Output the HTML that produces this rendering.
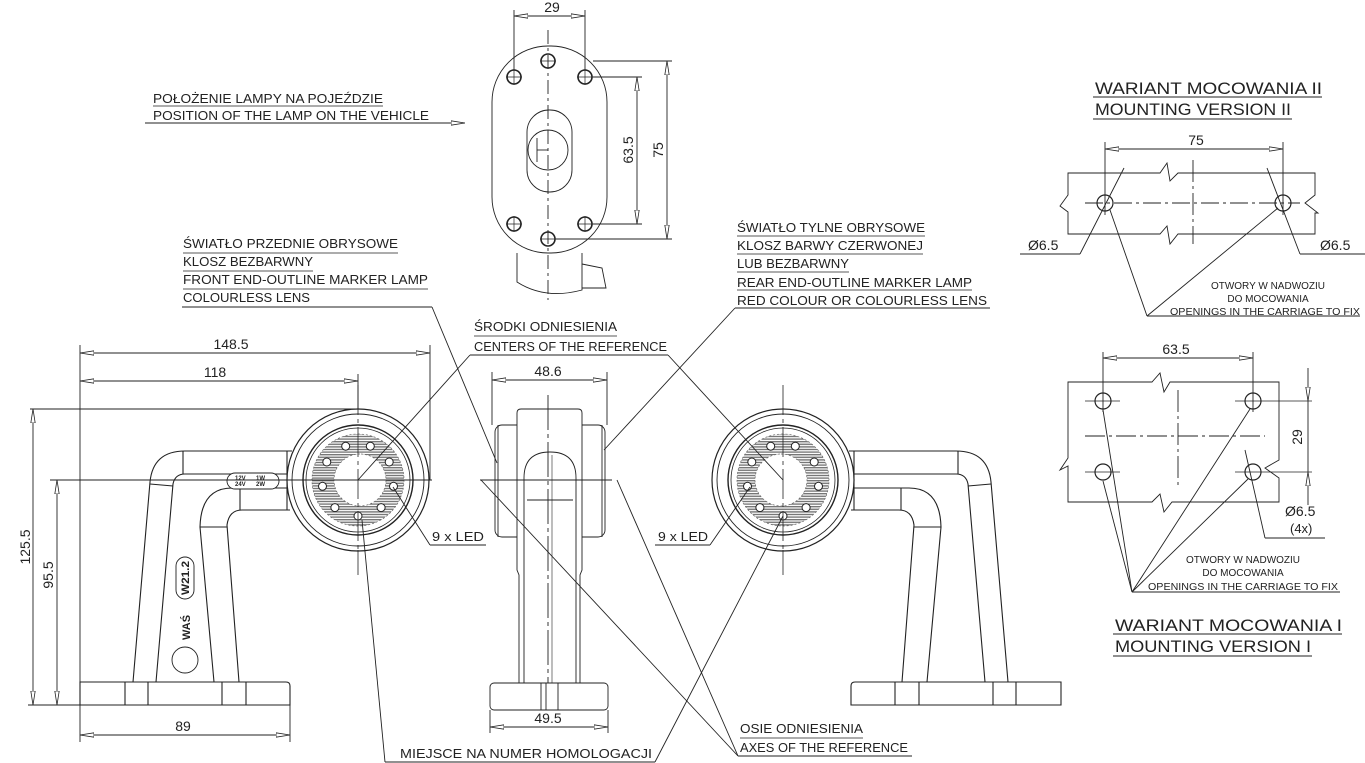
<!DOCTYPE html>
<html><head><meta charset="utf-8"><style>
html,body{margin:0;padding:0;background:#fff}
svg{display:block}
text{font-family:"Liberation Sans",sans-serif;fill:#222}
</style></head><body>
<svg width="1365" height="763" viewBox="0 0 1365 763" xmlns="http://www.w3.org/2000/svg">
<defs>
<marker id="a" viewBox="0 0 14 6" refX="14" refY="3" markerWidth="14" markerHeight="6" markerUnits="userSpaceOnUse" orient="auto-start-reverse"><path d="M0,0.8 L14,3 L0,5.2 Z" fill="#fff" stroke="#222" stroke-width="0.8"/></marker>
<pattern id="h" width="4" height="2.6" patternUnits="userSpaceOnUse"><rect width="4" height="2.6" fill="#fff"/><rect width="4" height="1.4" fill="#777"/></pattern>
<g id="lamp">
<circle r="71" fill="#fff" stroke="#222" stroke-width="1.2"/>
<circle r="66" fill="none" stroke="#222"/>
<circle r="55" fill="none" stroke="#222" stroke-width="1.4"/>
<circle r="52" fill="none" stroke="#222" stroke-width="0.8"/>
<path d="M0,-46 A46,46 0 1,1 0,46 A46,46 0 1,1 0,-46 Z M2,-26 A26,26 0 1,0 2,26 A26,26 0 1,0 2,-26 Z" fill="url(#h)" fill-rule="evenodd" stroke="#666" stroke-dasharray="2 2" stroke-width="0.7"/>
<g fill="#fff" stroke="#222" stroke-width="1">
<circle cx="0" cy="36" r="4"/><circle cx="23.1" cy="27.6" r="4"/><circle cx="35.5" cy="6.3" r="4"/><circle cx="31.2" cy="-18" r="4"/><circle cx="12.3" cy="-33.8" r="4"/><circle cx="-12.3" cy="-33.8" r="4"/><circle cx="-31.2" cy="-18" r="4"/><circle cx="-35.5" cy="6.3" r="4"/><circle cx="-23.1" cy="27.6" r="4"/>
</g>
<line x1="0" y1="-95" x2="0" y2="70" stroke="#222" stroke-width="0.8" stroke-dasharray="30 4 4 4"/>
<line x1="0" y1="70" x2="0" y2="95" stroke="#222" stroke-width="0.8"/>
</g>
<g id="arm" fill="none" stroke="#222" stroke-width="1.1">
<path d="M133,682 L150,482 Q153,451 185,451 L292,451"/>
<path d="M156,682 L173,484 Q175,474 185,474 L290,474"/>
<path d="M290,510 L242,510 Q229,510 227,525 L239,682"/>
<path d="M214,682 L200,527 Q201,488 232,488 L290,488"/>
<line x1="183" y1="451" x2="183" y2="474"/>
<line x1="150" y1="484" x2="173" y2="486"/>
<line x1="200" y1="527" x2="227" y2="527"/>
<line x1="240" y1="488" x2="240" y2="510"/>
<line x1="287" y1="451" x2="287" y2="510"/>
<path d="M80,705 L80,682 L286,682 Q290,682 290,686 L290,705 Z" fill="#fff"/>
<path d="M125,682V705M148,682V705M222,682V705M246,682V705"/>
</g>
</defs>

<g stroke="#222" stroke-width="0.9" fill="none">
<use href="#arm"/>
<rect x="227" y="473" width="52" height="16" rx="8" fill="#fff"/>
<use href="#lamp" x="358" y="480"/>
<circle cx="185" cy="660" r="13"/>
<rect x="176" y="557" width="18" height="42" rx="9"/>
<line x1="50" y1="480" x2="432" y2="480"/>
<line x1="80" y1="345" x2="80" y2="742"/>
<line x1="430" y1="345" x2="430" y2="480"/>
<line x1="358" y1="374" x2="358" y2="409"/>
<line x1="30" y1="409" x2="358" y2="409"/>
<line x1="28" y1="705" x2="80" y2="705"/>
<line x1="290" y1="705" x2="290" y2="742"/>
<line x1="80" y1="353" x2="430" y2="353" marker-start="url(#a)" marker-end="url(#a)"/>
<line x1="80" y1="381" x2="358" y2="381" marker-start="url(#a)" marker-end="url(#a)"/>
<line x1="33" y1="409" x2="33" y2="705" marker-start="url(#a)" marker-end="url(#a)"/>
<line x1="57" y1="480" x2="57" y2="705" marker-start="url(#a)" marker-end="url(#a)"/>
<line x1="80" y1="735" x2="290" y2="735" marker-start="url(#a)" marker-end="url(#a)"/>

<g transform="translate(1141,0) scale(-1,1)">
<use href="#arm"/>
<use href="#lamp" x="358" y="480"/>
</g>

<rect x="495" y="425" width="110" height="112" rx="7" fill="#fff"/>
<line x1="498" y1="425" x2="498" y2="537"/><line x1="602" y1="425" x2="602" y2="537"/>
<path d="M519,683 L519,575 L517,570 L517,413 Q517,409 521,409 L578,409 Q582,409 582,413 L582,570 L580,575 L580,683" fill="#fff"/>
<path d="M524,683 L524,478 Q524,452 550,452 Q576,452 576,478 L576,683"/>
<line x1="527" y1="500" x2="573" y2="500"/>
<line x1="548" y1="395" x2="548" y2="700" stroke-dasharray="35 4 4 4"/>
<line x1="552" y1="455" x2="552" y2="683" stroke-width="0.6"/>
<rect x="490" y="683" width="118" height="27" rx="4" fill="#fff"/>
<path d="M541,683V710M546,683V710M558,683V710"/>
<line x1="480" y1="480" x2="612" y2="480"/>
<line x1="492" y1="372" x2="492" y2="425"/><line x1="607" y1="372" x2="607" y2="425"/>
<line x1="492" y1="380" x2="607" y2="380" marker-start="url(#a)" marker-end="url(#a)"/>
<line x1="490" y1="710" x2="490" y2="733"/><line x1="608" y1="710" x2="608" y2="733"/>
<line x1="490" y1="727" x2="608" y2="727" marker-start="url(#a)" marker-end="url(#a)"/>

<rect x="492" y="46" width="115" height="207" rx="56" fill="#fff"/>
<path d="M517,253 L517,282 Q545,300 582,290 L582,253"/>
<path d="M582,264 L602,268 L606,288 L582,288"/>
<rect x="527" y="110" width="45" height="82" rx="22"/>
<circle cx="548" cy="150" r="20"/>
<line x1="537" y1="150" x2="548" y2="150"/><line x1="537" y1="138" x2="537" y2="162"/>
<g stroke-width="1.6"><circle cx="548" cy="61" r="7"/><circle cx="514" cy="77" r="7"/><circle cx="585" cy="77" r="7"/><circle cx="514" cy="224" r="7"/><circle cx="585" cy="224" r="7"/><circle cx="548" cy="239" r="7"/></g>
<g stroke-width="0.7"><path d="M540,61H556M506,77H522M577,77H593M506,224H522M577,224H593M540,239H556M514,69V85M585,69V85M514,216V232M585,216V232"/></g>
<line x1="548" y1="30" x2="548" y2="300" stroke-dasharray="14 4 3 4"/>
<line x1="514" y1="10" x2="514" y2="70"/><line x1="585" y1="10" x2="585" y2="70"/>
<line x1="514" y1="16" x2="585" y2="16" marker-start="url(#a)" marker-end="url(#a)"/>
<line x1="593" y1="61" x2="672" y2="61"/><line x1="593" y1="77" x2="642" y2="77"/>
<line x1="593" y1="224" x2="642" y2="224"/><line x1="556" y1="239" x2="672" y2="239"/>
<line x1="637" y1="77" x2="637" y2="224" marker-start="url(#a)" marker-end="url(#a)"/>
<line x1="667" y1="61" x2="667" y2="239" marker-start="url(#a)" marker-end="url(#a)"/>

<line x1="145" y1="123" x2="465" y2="123" marker-end="url(#a)"/>
<line x1="182" y1="307" x2="432" y2="307"/>
<line x1="432" y1="307" x2="497" y2="463"/>
<line x1="470" y1="355" x2="668" y2="355"/>
<line x1="470" y1="355" x2="358" y2="480"/>
<line x1="668" y1="355" x2="783" y2="480"/>
<line x1="735" y1="308" x2="990" y2="308"/>
<line x1="735" y1="308" x2="604" y2="450"/>
<line x1="430" y1="545" x2="486" y2="545"/>
<line x1="430" y1="545" x2="393" y2="487"/>
<line x1="655" y1="545" x2="710" y2="545"/>
<line x1="710" y1="545" x2="750" y2="487"/>
<line x1="385" y1="762" x2="655" y2="762"/>
<line x1="385" y1="762" x2="362" y2="520"/>
<line x1="655" y1="762" x2="783" y2="516"/>
<line x1="738" y1="756" x2="912" y2="756"/>
<line x1="738" y1="756" x2="481" y2="480"/>
<line x1="738" y1="756" x2="617" y2="480"/>

<path d="M1068,173 L1160,173 L1167,163 L1170,181 L1178,173 L1315,173 L1315,195 L1305,203 L1318,213 L1315,213 L1315,234 L1178,234 L1170,244 L1167,226 L1160,234 L1068,234 L1068,212 L1060,206 L1068,195 Z"/>
<circle cx="1105" cy="203" r="8" stroke-width="1.2"/><circle cx="1283" cy="203" r="8" stroke-width="1.2"/>
<line x1="1085" y1="203" x2="1300" y2="203" stroke-dasharray="18 4 3 4"/>
<line x1="1193" y1="160" x2="1193" y2="244" stroke-dasharray="22 4 3 4"/>
<line x1="1105" y1="142" x2="1105" y2="215"/><line x1="1283" y1="142" x2="1283" y2="215"/>
<line x1="1105" y1="149" x2="1283" y2="149" marker-start="url(#a)" marker-end="url(#a)"/>
<line x1="1020" y1="254" x2="1080" y2="254"/>
<line x1="1080" y1="254" x2="1124" y2="168"/>
<line x1="1300" y1="254" x2="1365" y2="254"/>
<line x1="1300" y1="254" x2="1267" y2="168"/>
<line x1="1147" y1="316" x2="1360" y2="316"/>
<line x1="1147" y1="316" x2="1110" y2="210"/>
<line x1="1147" y1="316" x2="1278" y2="208"/>
<line x1="1093" y1="97" x2="1322" y2="97"/><line x1="1093" y1="119" x2="1292" y2="119"/>

<path d="M1068,382 L1152,382 L1160,373 L1164,392 L1170,382 L1279,382 L1279,460 L1265,468 L1279,478 L1279,502 L1172,502 L1164,512 L1160,494 L1152,502 L1068,502 L1068,466 L1060,470 L1068,458 Z"/>
<g stroke-width="1.2"><circle cx="1103" cy="401" r="8"/><circle cx="1253" cy="401" r="8"/><circle cx="1103" cy="472" r="8"/><circle cx="1253" cy="472" r="8"/></g>
<path d="M1085,401H1120M1235,401H1312M1085,472H1120M1235,472H1312" stroke-width="0.7"/>
<line x1="1085" y1="436" x2="1265" y2="436" stroke-dasharray="20 4 3 4"/>
<line x1="1178" y1="390" x2="1178" y2="486" stroke-dasharray="22 4 3 4"/>
<line x1="1103" y1="352" x2="1103" y2="412"/><line x1="1253" y1="352" x2="1253" y2="412"/>
<line x1="1103" y1="358" x2="1253" y2="358" marker-start="url(#a)" marker-end="url(#a)"/>
<line x1="1308" y1="368" x2="1308" y2="401" marker-end="url(#a)"/>
<line x1="1308" y1="505" x2="1308" y2="472" marker-end="url(#a)"/>
<line x1="1308" y1="401" x2="1308" y2="472"/>
<line x1="1265" y1="538" x2="1325" y2="538"/>
<line x1="1265" y1="538" x2="1245" y2="450"/>
<line x1="1132" y1="592" x2="1340" y2="592"/>
<line x1="1132" y1="592" x2="1103" y2="410"/>
<line x1="1132" y1="592" x2="1103" y2="481"/>
<line x1="1132" y1="592" x2="1250" y2="409"/>
<line x1="1132" y1="592" x2="1248" y2="479"/>
<line x1="1113" y1="634" x2="1342" y2="634"/><line x1="1113" y1="656" x2="1312" y2="656"/>
</g>

<g font-size="13">
<text x="153" y="103" textLength="230" lengthAdjust="spacingAndGlyphs">POŁOŻENIE LAMPY NA POJEŹDZIE</text>
<text x="153" y="120" textLength="276" lengthAdjust="spacingAndGlyphs">POSITION OF THE LAMP ON THE VEHICLE</text>
<text x="183" y="248" textLength="215" lengthAdjust="spacingAndGlyphs">ŚWIATŁO PRZEDNIE OBRYSOWE</text>
<text x="183" y="266" textLength="130" lengthAdjust="spacingAndGlyphs">KLOSZ BEZBARWNY</text>
<text x="183" y="284" textLength="245" lengthAdjust="spacingAndGlyphs">FRONT END-OUTLINE MARKER LAMP</text>
<text x="183" y="302" textLength="127" lengthAdjust="spacingAndGlyphs">COLOURLESS LENS</text>
<text x="737" y="232" textLength="188" lengthAdjust="spacingAndGlyphs">ŚWIATŁO TYLNE OBRYSOWE</text>
<text x="737" y="250" textLength="186" lengthAdjust="spacingAndGlyphs">KLOSZ BARWY CZERWONEJ</text>
<text x="737" y="268" textLength="112" lengthAdjust="spacingAndGlyphs">LUB BEZBARWNY</text>
<text x="737" y="287" textLength="235" lengthAdjust="spacingAndGlyphs">REAR END-OUTLINE MARKER LAMP</text>
<text x="737" y="305" textLength="250" lengthAdjust="spacingAndGlyphs">RED COLOUR OR COLOURLESS LENS</text>
<text x="474" y="331" textLength="143" lengthAdjust="spacingAndGlyphs">ŚRODKI ODNIESIENIA</text>
<text x="474" y="351" textLength="193" lengthAdjust="spacingAndGlyphs">CENTERS OF THE REFERENCE</text>
<text x="432" y="541" textLength="52" lengthAdjust="spacingAndGlyphs">9 x LED</text>
<text x="658" y="541" textLength="50" lengthAdjust="spacingAndGlyphs">9 x LED</text>
<text x="400" y="758" textLength="252" lengthAdjust="spacingAndGlyphs">MIEJSCE NA NUMER HOMOLOGACJI</text>
<text x="740" y="733" textLength="123" lengthAdjust="spacingAndGlyphs">OSIE ODNIESIENIA</text>
<text x="740" y="752" textLength="168" lengthAdjust="spacingAndGlyphs">AXES OF THE REFERENCE</text>
<text x="231" y="349" font-size="14" text-anchor="middle">148.5</text>
<text x="215" y="377" font-size="14" text-anchor="middle">118</text>
<text x="183" y="731" font-size="14" text-anchor="middle">89</text>
<text x="548" y="376" font-size="14" text-anchor="middle">48.6</text>
<text x="548" y="723" font-size="14" text-anchor="middle">49.5</text>
<text x="552" y="12" font-size="14" text-anchor="middle">29</text>
<text transform="translate(30,547) rotate(-90)" font-size="14" text-anchor="middle">125.5</text>
<text transform="translate(53,575) rotate(-90)" font-size="14" text-anchor="middle">95.5</text>
<text transform="translate(633,150) rotate(-90)" font-size="14" text-anchor="middle">63.5</text>
<text transform="translate(663,150) rotate(-90)" font-size="14" text-anchor="middle">75</text>
<text transform="translate(190,640) rotate(-90)" font-size="11" font-weight="bold">WAŚ</text>
<text transform="translate(189,595) rotate(-90)" font-size="11" font-weight="bold" textLength="34" lengthAdjust="spacingAndGlyphs">W21.2</text>
<text x="235" y="480" font-size="6" font-weight="bold">12V</text><text x="235" y="486" font-size="6" font-weight="bold">24V</text>
<text x="256" y="480" font-size="6" font-weight="bold">1W</text><text x="256" y="486" font-size="6" font-weight="bold">2W</text>
<text x="1095" y="94" font-size="17" textLength="227" lengthAdjust="spacingAndGlyphs">WARIANT MOCOWANIA II</text>
<text x="1095" y="115" font-size="17" textLength="196" lengthAdjust="spacingAndGlyphs">MOUNTING VERSION II</text>
<text x="1196" y="145" font-size="14" text-anchor="middle">75</text>
<text x="1028" y="250" font-size="14">Ø6.5</text>
<text x="1320" y="250" font-size="14">Ø6.5</text>
<text x="1268" y="289" font-size="10" text-anchor="middle">OTWORY W NADWOZIU</text>
<text x="1268" y="302" font-size="10" text-anchor="middle">DO MOCOWANIA</text>
<text x="1265" y="315" font-size="10" text-anchor="middle" textLength="190" lengthAdjust="spacingAndGlyphs">OPENINGS IN THE CARRIAGE TO FIX</text>
<text x="1176" y="354" font-size="14" text-anchor="middle">63.5</text>
<text transform="translate(1302,437) rotate(-90)" font-size="14" text-anchor="middle">29</text>
<text x="1285" y="516" font-size="14">Ø6.5</text>
<text x="1290" y="533" font-size="13">(4x)</text>
<text x="1243" y="563" font-size="10" text-anchor="middle">OTWORY W NADWOZIU</text>
<text x="1243" y="576" font-size="10" text-anchor="middle">DO MOCOWANIA</text>
<text x="1243" y="590" font-size="10" text-anchor="middle" textLength="190" lengthAdjust="spacingAndGlyphs">OPENINGS IN THE CARRIAGE TO FIX</text>
<text x="1115" y="631" font-size="17" textLength="227" lengthAdjust="spacingAndGlyphs">WARIANT MOCOWANIA I</text>
<text x="1115" y="652" font-size="17" textLength="196" lengthAdjust="spacingAndGlyphs">MOUNTING VERSION I</text>
</g>
<g stroke="#222" stroke-width="0.8">
<path d="M153,106H383M183,253H398M183,271H313M183,289H428M737,236H925M737,254H923M737,272H849M737,290H972M474,336H617M740,738H863"/>
</g>
</svg>
</body></html>
